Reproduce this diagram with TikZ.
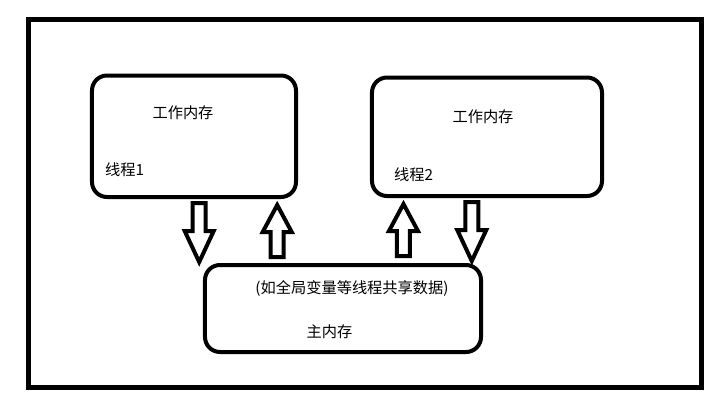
\documentclass[tikz,border=0pt]{standalone}
\usepackage{fontspec}
\setmainfont{Noto Sans CJK SC}
\usetikzlibrary{positioning}
\usetikzlibrary{calc}

\tikzset{
  membox/.style={draw, line width=0.12cm, rounded corners=0.45cm, inner sep=0pt},
  txt/.style={draw=none, inner sep=0pt, font=\fontsize{13}{15}\selectfont},
  arrowline/.style={draw, line width=0.12cm, line join=miter, fill=white},
  pics/downarrow/.style={code={
    \draw[arrowline] (-6.5,4) -- (-6.5,32) -- (-14.5,32) -- (0,63) -- (14.5,32) -- (6.5,32) -- (6.5,4) -- cycle;
  }},
  pics/uparrow/.style={code={
    \draw[arrowline] (-6.5,58) -- (-6.5,33) -- (-14.5,33) -- (0,6) -- (14.5,33) -- (6.5,33) -- (6.5,58) -- cycle;
  }},
}

\begin{document}
\begin{tikzpicture}[x=0.03cm, y=-0.03cm]

\useasboundingbox (0,0) rectangle (724,407);
\draw[line width=0.15cm] (28.5,19.5) rectangle (701,387);

% working memories
\node[membox, minimum width=6.12cm, minimum height=3.645cm] at (194,136.25) (thread1) {};
\node[membox, minimum width=6.9cm, minimum height=3.555cm] at (487,136.75) (thread2) {};
\node[txt] at (183,113) (work1) {工作内存};
\node[txt, anchor=west] at (105,170) (name1) {线程1};
\node[txt] at (483,117) (work2) {工作内存};
\node[txt, anchor=west] at (394,175) (name2) {线程2};

% main memory
\node[membox, minimum width=8.28cm, minimum height=2.61cm] at (343,308.5) (mainmem) {};
\node[txt] at (352,289) (shared) {(如全局变量等线程共享数据)};
\node[txt] at (329.5,332) (mainname) {主内存};

% arrows
\pic at ($(thread1.south west)!0.525!(thread1.south east)$) {downarrow};
\pic at ($(thread1.south west)!0.9!(thread1.south east)$) {uparrow};
\pic at ($(thread2.south west)!0.143!(thread2.south east)$) {uparrow};
\pic at ($(thread2.south west)!0.435!(thread2.south east)$) {downarrow};

\end{tikzpicture}
\end{document}
